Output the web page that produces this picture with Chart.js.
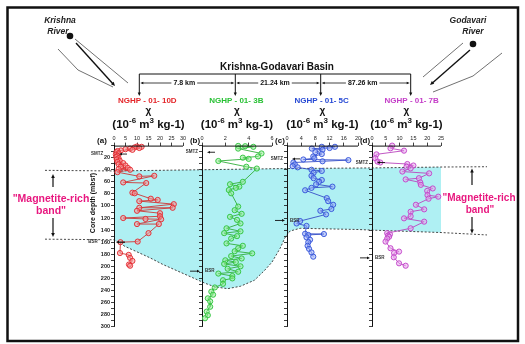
<!DOCTYPE html>
<html>
<head>
<meta charset="utf-8">
<script src="https://cdn.jsdelivr.net/npm/chart.js@4.4.1/dist/chart.umd.min.js"></script>
<style>html,body{margin:0;padding:0;background:#fff}canvas{display:block}</style>
</head>
<body>
<canvas id="c" width="525" height="344"></canvas>
<script>
// Magnetic susceptibility profiles, Krishna-Godavari basin cores

// --- data ---
const wellNames = ['NGHP - 01- 10D', 'NGHP - 01- 3B', 'NGHP - 01- 5C', 'NGHP - 01- 7B']
const panelTags = ['(a)', '(b)', '(c)', '(d)']
const distances = ['7.8 km', '21.24 km', '87.26 km']
const panelMax = [30, 6, 20, 25]
const panelStep = [5, 2, 4, 5]

const depthA = [1.5, 2, 3, 4, 5, 6, 7, 8, 9, 11, 13, 15, 17, 19, 21, 23, 25, 27, 29, 31, 33, 35, 37, 39, 40, 44, 51, 50, 61, 62, 78, 79, 88, 90, 92, 97, 103, 103, 108, 112, 117, 120, 121.5, 122, 130, 130, 145, 159, 160, 178, 181, 186, 191, 197, 199]
const chiA = [10, 12, 9, 11, 7, 5, 8, 3, 1.5, 1, 2, 0.8, 1.5, 1, 2, 1.2, 2.5, 1.5, 4, 2, 5, 3, 6, 2, 7, 1.5, 11, 17.5, 4, 14, 8, 9, 16, 19, 11, 26, 11, 25.5, 10, 20, 20, 4, 13.7, 20.5, 10, 19.5, 15, 10.3, 2.8, 2.6, 6.4, 7, 8, 6.5, 7]

const depthB = [0.5, 1, 2, 5, 13, 18, 20, 22, 25.5, 35, 38, 60, 64, 68, 70, 73.6, 79, 101, 107, 113, 118, 123, 129, 137, 142, 145, 150, 154, 162, 166, 170, 175, 178.5, 183, 187, 190, 193, 196, 200, 204, 209, 212, 216, 220, 223, 229, 235, 242, 247, 253, 258, 267, 275, 281, 286]
const chiB = [3.1, 3.7, 4.4, 3.1, 5.1, 4.8, 3.5, 4, 1.4, 3.8, 4.7, 3.5, 2.4, 3.2, 2.9, 2.3, 2.5, 3.1, 2.8, 3.4, 2.4, 3, 3.3, 2.1, 3.3, 1.9, 3, 2.5, 2.1, 3.5, 3.1, 2.8, 4.3, 2.5, 3.4, 2, 2.9, 1.9, 3.3, 2.2, 3.1, 1.4, 2.6, 2.6, 1.8, 1.8, 1.1, 0.8, 0.95, 0.5, 0.7, 0.7, 0.4, 0.5, 0.26]

const depthC = [2, 2, 4, 5, 7, 11, 14, 18, 21, 23, 24, 26, 28, 31, 34, 36, 40, 42, 45, 50, 54, 57, 60, 64, 68, 70, 74, 87, 92, 98, 105, 108, 114, 125, 129, 133, 146, 146.5, 148, 152, 156, 160, 166, 171, 177, 184]
const chiC = [9.8, 13.5, 12, 7, 10, 8, 9.8, 7.4, 7.7, 4.6, 17.3, 10, 1.8, 2.2, 1.6, 3, 6.9, 9.8, 7.5, 6.9, 7.5, 9.8, 9, 8.2, 12.8, 6.9, 5.1, 11.2, 11.6, 13, 12.5, 9.4, 11, 3.7, 2.7, 5.5, 5.1, 10.4, 6, 5.5, 6.5, 6, 5.8, 6.2, 6.9, 7.4]

const depthD = [0, 4.5, 8.4, 14.5, 21, 26.5, 28, 30.5, 33, 35, 37.7, 43, 46, 54, 56, 61, 65, 71, 75, 82, 84.6, 88, 98, 105.6, 109.5, 117, 120.5, 126, 137, 145, 147, 149, 151, 154, 159, 170, 175.6, 178, 185, 195, 199]
const chiD = [7.3, 6.7, 11.6, 1.6, 1.2, 2, 3, 12.8, 15, 12.5, 14, 11, 20.7, 17, 12.2, 17.5, 17.7, 22, 20, 20.1, 24, 20.5, 15.9, 18.9, 14, 14, 11.6, 18.9, 14, 5.5, 6.5, 5.8, 6.2, 5.5, 4.9, 6.7, 9.8, 8, 7.9, 9.8, 12.2]

// SMTZ / BSR depths (mbsf) per core
const smtzDepth = [14, 11, 22, 28]
const bsrDepth = [160, 208, 124, 186]

// magnetite-rich band outline: [panel axis, chi value, depth]
const bandTop = [['xa', 0, 42], ['xb', 0, 40], ['xc', 0, 38], ['xd', 0, 37], ['xd', 25, 35.5]]
const bandBottom = [['xd', 25, 144], ['xd', 0, 140], ['xc', 20, 139], ['xc', 3.7, 137], ['xc', 0.85, 141.5], ['xb', 7.1, 153], ['xb', 6.7, 170], ['xb', 6, 193], ['xb', 5.4, 206], ['xb', 4.5, 223], ['xb', 3.3, 233], ['xb', 2.2, 237], ['xb', 1.1, 234], ['xb', 0.26, 228], ['xa', 34.3, 219], ['xa', 27.8, 208], ['xa', 21.3, 197], ['xa', 15.7, 186], ['xa', 10, 176], ['xa', 4.8, 167], ['xa', 1.7, 160], ['xa', 0, 156]]

// --- layout / style ---
const FONT = "'Liberation Sans', Arial, Helvetica, sans-serif"
const panelIds = ['xa', 'xb', 'xc', 'xd']
const yIds = ['y', 'yb', 'yc', 'yd']
const panelLeft = [114, 202, 287, 372]
const panelRight = [183, 272, 358, 441]
const wellX = [139.3, 235.3, 320.7, 410.7]
const nameColors = ['#e4262a', '#28c134', '#2548d4', '#c43cc8']
const lineColors = ['rgba(205,55,55,0.9)', 'rgba(50,175,60,0.9)', 'rgba(55,80,200,0.9)', 'rgba(185,70,190,0.9)']
const dotColors = ['#e3262c', '#2cc33a', '#3050d8', '#c23fc8']
const dotFill = ['rgba(245,150,150,0.55)', 'rgba(150,235,150,0.55)', 'rgba(150,170,245,0.55)', 'rgba(230,165,235,0.55)']
const PINK = '#e8177f'
const CYAN = '#aff0f3'

const series = [[depthA, chiA], [depthB, chiB], [depthC, chiC], [depthD, chiD]]

function txt(ctx, s, x, y, font, color, align = 'center', base = 'middle') {
    ctx.font = font
    ctx.fillStyle = color
    ctx.textAlign = align
    ctx.textBaseline = base
    ctx.fillText(s, x, y)
}

function arrow(ctx, x1, y1, x2, y2, head = 4, width = 1, color = '#111') {
    const a = Math.atan2(y2 - y1, x2 - x1)
    ctx.save()
    ctx.strokeStyle = color
    ctx.fillStyle = color
    ctx.lineWidth = width
    ctx.setLineDash([])
    ctx.beginPath()
    ctx.moveTo(x1, y1)
    ctx.lineTo(x2 - Math.cos(a) * head * 0.7, y2 - Math.sin(a) * head * 0.7)
    ctx.stroke()
    const w = head * 0.45
    ctx.beginPath()
    ctx.moveTo(x2, y2)
    ctx.lineTo(x2 - head * Math.cos(a) + w * Math.sin(a), y2 - head * Math.sin(a) - w * Math.cos(a))
    ctx.lineTo(x2 - head * Math.cos(a) - w * Math.sin(a), y2 - head * Math.sin(a) + w * Math.cos(a))
    ctx.closePath()
    ctx.fill()
    ctx.restore()
}

function line(ctx, pts, width = 0.8, color = '#222') {
    ctx.save()
    ctx.strokeStyle = color
    ctx.lineWidth = width
    ctx.beginPath()
    pts.forEach((p, i) => i ? ctx.lineTo(p[0], p[1]) : ctx.moveTo(p[0], p[1]))
    ctx.stroke()
    ctx.restore()
}

// units label with superscripts
function drawUnits(ctx, cx, cy) {
    const parts = [['(10', 11.5, 0], ['-6', 8, -4], [' m', 11.5, 0], ['3', 8, -4], [' kg-1)', 11.5, 0]]
    let total = 0
    parts.forEach(p => { ctx.font = `bold ${p[1]}px ${FONT}`; total += ctx.measureText(p[0]).width })
    let x = cx - total / 2
    parts.forEach(p => {
        ctx.font = `bold ${p[1]}px ${FONT}`
        ctx.fillStyle = '#111'
        ctx.textAlign = 'left'
        ctx.textBaseline = 'middle'
        ctx.fillText(p[0], x, cy + p[2])
        x += ctx.measureText(p[0]).width
    })
}

const decor = {
    id: 'decor',
    // place the four top axes and four depth axes side by side
    afterLayout(chart) {
        const ca = chart.chartArea
        panelIds.forEach((id, i) => {
            const s = chart.scales[id]
            s.left = panelLeft[i] - 4; s.right = panelRight[i] + 4; s.width = s.right - s.left
            s.top = ca.top - 14; s.bottom = ca.top; s.height = 14
            s.configure()
            // keep the value range on the panel edges
            s._startPixel = panelLeft[i]; s._endPixel = panelRight[i]; s._length = panelRight[i] - panelLeft[i]
        })
        yIds.forEach((id, i) => {
            const s = chart.scales[id]
            s.left = panelLeft[i] - 22; s.right = panelLeft[i]; s.width = 22
            s.top = ca.top; s.bottom = ca.bottom; s.height = ca.bottom - ca.top
            s.configure()
        })
    },
    beforeDraw(chart) {
        const ctx = chart.ctx
        const y = chart.scales.y
        const P = p => [chart.scales[p[0]].getPixelForValue(p[1]), y.getPixelForValue(p[2])]
        ctx.save()
        ctx.fillStyle = '#fff'
        ctx.fillRect(0, 0, chart.width, chart.height)
        // cyan band
        ctx.beginPath()
        bandTop.concat(bandBottom).forEach((p, i) => {
            const [X, Y] = P(p)
            i ? ctx.lineTo(X, Y) : ctx.moveTo(X, Y)
        })
        ctx.closePath()
        ctx.fillStyle = CYAN
        ctx.fill()
        // dashed outlines
        ctx.setLineDash([2, 1.8])
        ctx.strokeStyle = '#333'
        ctx.lineWidth = 0.9
        ctx.beginPath()
        ctx.moveTo(45, y.getPixelForValue(41))
        bandTop.forEach(p => { const [X, Y] = P(p); ctx.lineTo(X, Y) })
        ctx.lineTo(487, y.getPixelForValue(35))
        ctx.stroke()
        ctx.beginPath()
        ctx.moveTo(45, y.getPixelForValue(155))
        bandBottom.slice().reverse().forEach(p => { const [X, Y] = P(p); ctx.lineTo(X, Y) })
        ctx.lineTo(487, y.getPixelForValue(148))
        ctx.stroke()
        ctx.restore()
    },
    afterDraw(chart) {
        const ctx = chart.ctx
        const y = chart.scales.y
        ctx.save()

        // rivers
        txt(ctx, 'Krishna', 60, 21, `italic bold 8.5px ${FONT}`, '#222')
        txt(ctx, 'River', 58, 32, `italic bold 8.5px ${FONT}`, '#222')
        txt(ctx, 'Godavari', 468, 21, `italic bold 8.5px ${FONT}`, '#222')
        txt(ctx, 'River', 473, 32, `italic bold 8.5px ${FONT}`, '#222')
        ctx.fillStyle = '#111'
        ctx.beginPath(); ctx.arc(70, 36, 3.3, 0, Math.PI * 2); ctx.fill()
        ctx.beginPath(); ctx.arc(473, 44, 3.3, 0, Math.PI * 2); ctx.fill()
        line(ctx, [[75, 39], [128, 83]], 0.7, '#333')
        line(ctx, [[58, 49], [78, 70], [113, 87]], 0.7, '#333')
        arrow(ctx, 76, 43, 115, 86, 4, 1.4, '#111')
        line(ctx, [[463, 43], [423, 77]], 0.7, '#333')
        line(ctx, [[502, 53], [473, 76], [433, 92]], 0.7, '#333')
        arrow(ctx, 470, 50, 430, 85, 4, 1.4, '#111')

        // basin bracket and distances
        txt(ctx, 'Krishna-Godavari Basin', 277, 67, `bold 10px ${FONT}`, '#111')
        line(ctx, [[wellX[0], 74], [wellX[3], 74]], 1, '#111')
        wellX.forEach(x => arrow(ctx, x, 74, x, 96, 3.5, 1, '#111'))
        const dy = 83
        distances.forEach((d, i) => {
            const x0 = wellX[i], x1 = wellX[i + 1]
            const mid = (x0 + x1) / 2 - 3
            ctx.font = `bold 7px ${FONT}`
            const w = ctx.measureText(d).width
            txt(ctx, d, mid, dy, `bold 7px ${FONT}`, '#111')
            arrow(ctx, mid - w / 2 - 2, dy, x0 + 1, dy, 3, 0.8, '#111')
            arrow(ctx, mid + w / 2 + 2, dy, x1 - 1, dy, 3, 0.8, '#111')
        })

        // well names, chi and units
        panelIds.forEach((id, i) => {
            const cx = (panelLeft[i] + panelRight[i]) / 2
            txt(ctx, wellNames[i], wellX[i] + (i === 0 ? 8 : 1), 100.5, `bold 8px ${FONT}`, nameColors[i])
            txt(ctx, 'χ', cx, 111, `bold 10px ${FONT}`, '#111')
            drawUnits(ctx, cx, 124.5)
            txt(ctx, panelTags[i], panelLeft[i] - (i === 0 ? 12 : 7), 141, `bold 8px ${FONT}`, '#111')
        })

        // depth axis title
        ctx.save()
        ctx.translate(93, 203)
        ctx.rotate(-Math.PI / 2)
        txt(ctx, 'Core depth (mbsf)', 0, 0, `bold 7px ${FONT}`, '#111')
        ctx.restore()

        // SMTZ and BSR markers
        smtzDepth.forEach((d, i) => {
            const Y = y.getPixelForValue(d), X = panelLeft[i]
            txt(ctx, 'SMTZ', i === 0 ? 97 : X - 4, Y, `bold 4.5px ${FONT}`, '#333', i === 0 ? 'center' : 'right')
            arrow(ctx, X + 13, Y, X + 5, Y, 3, 0.9, '#111')
        })
        bsrDepth.forEach((d, i) => {
            const Y = y.getPixelForValue(d), X = panelLeft[i]
            if (i === 0) {
                txt(ctx, 'BSR', 93, Y, `bold 4.5px ${FONT}`, '#333')
                arrow(ctx, X + 11, Y, X + 2, Y, 3, 1.2, '#111')
            } else {
                txt(ctx, 'BSR', X + 3, Y, `bold 4.5px ${FONT}`, '#333', 'left')
                arrow(ctx, X - 12, Y, X - 2, Y, 3, 0.9, '#111')
            }
        })

        // magnetite-rich band labels
        const mf = `bold 10.5px ${FONT}`
        txt(ctx, '"Magnetite-rich', 51, 199.5, mf, PINK)
        txt(ctx, 'band"', 51, 211.5, mf, PINK)
        arrow(ctx, 53, 187, 53, 174, 4, 1.2, '#111')
        arrow(ctx, 53, 218, 53, 237, 4, 1.2, '#111')
        const mr = `bold 10px ${FONT}`
        txt(ctx, '"Magnetite-rich', 479, 198, mr, PINK)
        txt(ctx, 'band"', 480, 210, mr, PINK)
        arrow(ctx, 472, 185, 472, 168.5, 4, 1.2, '#111')
        arrow(ctx, 472, 217, 472, 233.5, 4, 1.2, '#111')

        // frame
        ctx.strokeStyle = '#111'
        ctx.lineWidth = 2.5
        ctx.strokeRect(7.5, 7.5, 510.5, 333.5)
        ctx.restore()
    }
}

const datasets = series.map((s, i) => ({
    label: wellNames[i],
    data: s[0].map((d, k) => ({ x: s[1][k], y: d })),
    xAxisID: panelIds[i],
    yAxisID: 'y',
    showLine: true,
    clip: false,
    borderColor: lineColors[i],
    borderWidth: 1,
    pointRadius: 2.6,
    pointBorderWidth: 0.9,
    pointBorderColor: dotColors[i],
    pointBackgroundColor: dotFill[i]
}))

const scales = {}
panelIds.forEach((id, i) => {
    scales[id] = {
        type: 'linear',
        position: 'top',
        min: 0,
        max: panelMax[i],
        ticks: { stepSize: panelStep[i], autoSkip: false, maxRotation: 0, padding: 1, color: '#222', font: { family: FONT, size: 5.5 } },
        grid: { drawOnChartArea: false, tickLength: 3, color: '#111', lineWidth: 0.8 },
        border: { display: false },
        afterFit: s => { s.height = 0 }
    }
})
yIds.forEach((id, i) => {
    scales[id] = {
        type: 'linear',
        position: 'left',
        reverse: true,
        min: 0,
        max: 300,
        ticks: {
            display: i === 0,
            stepSize: 10,
            autoSkip: false,
            padding: 1,
            color: '#222',
            font: { family: FONT, size: 5.5, weight: 'bold' },
            callback: v => (v > 0 && v % 20 === 0) ? v : ''
        },
        grid: { drawOnChartArea: false, tickLength: 3, color: '#111', lineWidth: 0.8 },
        border: { color: '#111', width: 1 },
        afterFit: s => { s.width = 0 }
    }
})

// top axis lines for each panel
const axisLines = {
    id: 'axisLines',
    afterDatasetsDraw(chart) {
        const ctx = chart.ctx
        const top = chart.chartArea.top
        ctx.save()
        ctx.strokeStyle = '#111'
        ctx.lineWidth = 1
        panelIds.forEach((id, i) => {
            ctx.beginPath()
            ctx.moveTo(panelLeft[i], top + 0.5)
            ctx.lineTo(panelRight[i], top + 0.5)
            ctx.stroke()
        })
        ctx.restore()
    }
}

new Chart(document.getElementById('c'), {
    type: 'scatter',
    data: { datasets },
    options: {
        responsive: false,
        animation: false,
        devicePixelRatio: 1,
        layout: { padding: { left: 114, top: 145.6, right: 84, bottom: 17.3 } },
        scales,
        plugins: { legend: { display: false }, tooltip: { enabled: false } }
    },
    plugins: [decor, axisLines]
})
</script>
</body>
</html>
